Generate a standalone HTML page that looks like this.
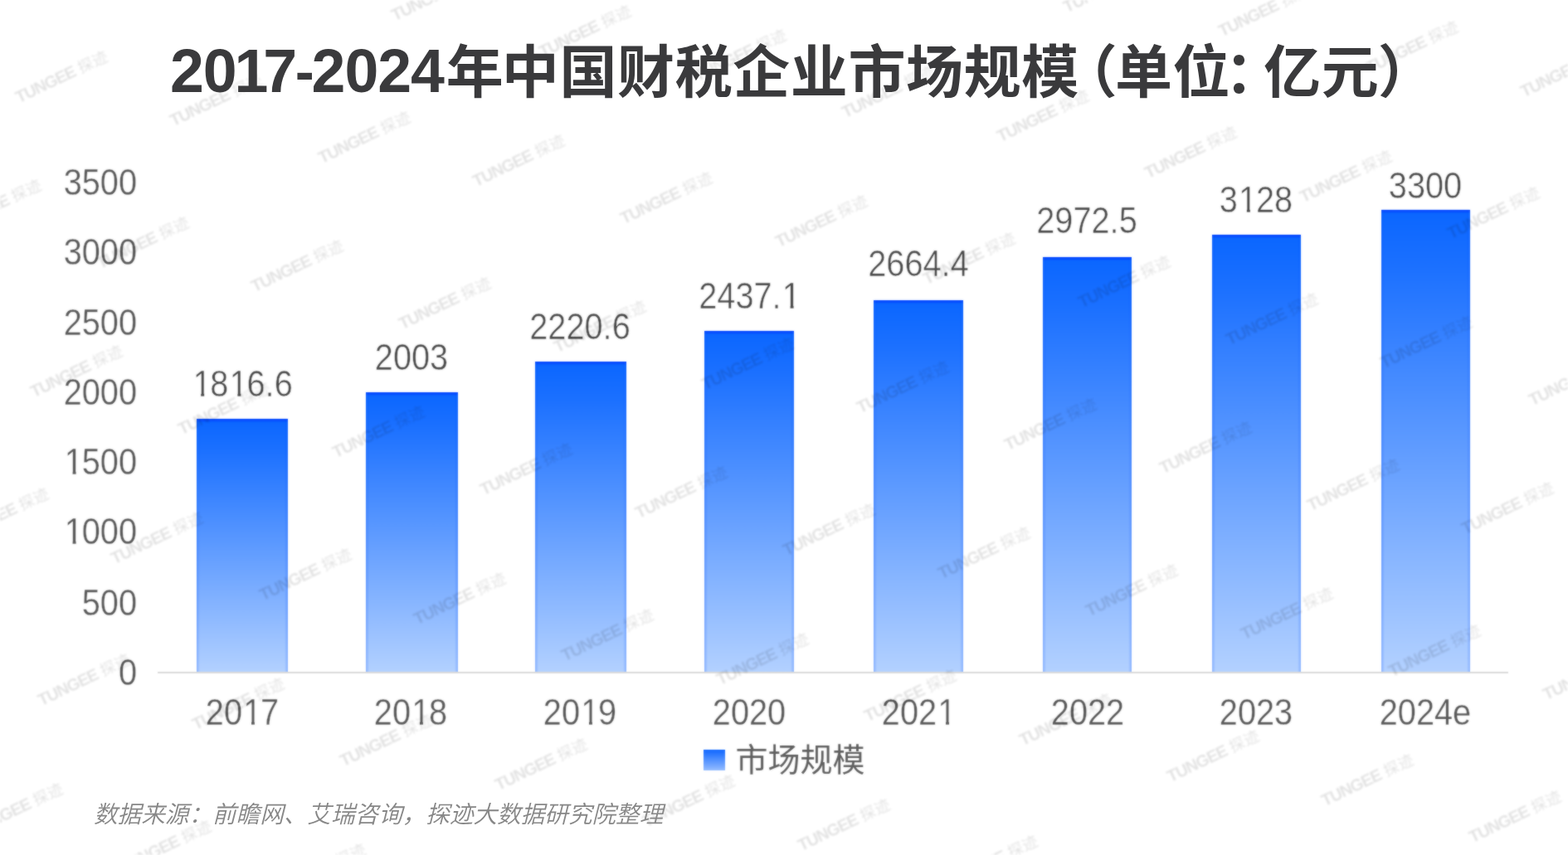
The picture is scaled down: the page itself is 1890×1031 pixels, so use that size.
<!DOCTYPE html>
<html lang="zh-CN">
<head>
<meta charset="utf-8">
<title>2017-2024年中国财税企业市场规模（单位：亿元）</title>
<style>
html,body{margin:0;padding:0;background:#fff;}
body{width:1890px;height:1031px;overflow:hidden;position:relative;font-family:"Liberation Sans","Noto Sans CJK SC",sans-serif;}
#stage{position:absolute;left:0;top:0;width:1890px;height:1031px;overflow:hidden;background:#fff;}
.title{position:absolute;left:205px;top:38.7px;height:96px;white-space:nowrap;
  font-family:"Liberation Sans","Noto Sans CJK SC",sans-serif;font-weight:700;font-size:69px;line-height:96px;color:#3a3a3c;letter-spacing:0.6px;}
.title .n{font-size:73.5px;letter-spacing:-1.1px;position:relative;top:-0.3px;}
.title .h{font-size:69px;margin:0 -3px 0 -8.5px;letter-spacing:0;position:relative;top:-1.8px;}
.title .d1{position:relative;left:-2px;}
.title .d7{position:relative;left:-7px;}
.title .c0{margin-left:3px;}
.title .c1{margin-left:-2.5px;}
.title .p1{margin-left:-23.2px;letter-spacing:-2.7px;}
.title .p2{margin-left:-7px;letter-spacing:-22px;}
.title .p3{margin-left:-1.5px;}
.chart{position:absolute;left:0;top:0;width:1890px;height:1031px;filter:url(#soft);}
.ylab{position:absolute;right:1724.6px;width:200px;text-align:right;font-size:44.6px;line-height:44px;height:44px;color:#585858;white-space:nowrap;transform:scaleX(0.8905);transform-origin:100% 50%;}
.xlab{position:absolute;width:204px;text-align:center;font-size:44.6px;line-height:44px;height:44px;color:#585858;white-space:nowrap;top:837.1px;transform:scaleX(0.8905);transform-origin:50% 50%;}
.vlab{position:absolute;width:204px;text-align:center;font-size:44.6px;line-height:44px;height:44px;color:#484848;white-space:nowrap;transform:scaleX(0.8905);transform-origin:50% 50%;}
.vlab{-webkit-text-stroke:0.6px #fff;}
.ylab,.xlab{-webkit-text-stroke:0.35px #fff;}
.o{display:inline-block;position:relative;left:0.03em;clip-path:polygon(0 0,100% 0,100% 0.738em,0.345em 0.738em,0.345em 100%,0.247em 100%,0.247em 0.738em,0 0.738em);}
.bar{position:absolute;background:linear-gradient(to bottom,#0a66ff 0%,#1b70ff 12%,#b3d1ff 100%);box-shadow:inset 3px 0 1.5px -0.5px rgba(0,85,255,0.18),inset -3px 0 1.5px -0.5px rgba(0,85,255,0.18),inset 0 4px 2px -1px rgba(0,50,255,0.55);}
.axis{position:absolute;left:190px;top:810.3px;width:1628px;height:1.8px;background:#dadada;}
.legend{position:absolute;left:848px;top:896px;height:44px;white-space:nowrap;}
.legend .sw{position:absolute;left:-0.5px;top:7.8px;width:26px;height:25.2px;background:linear-gradient(to bottom,#0f66ff,#94bcff);}
.legend .lt{position:absolute;left:38.5px;top:-1px;font-family:"Liberation Sans","Noto Sans CJK SC",sans-serif;font-size:39px;line-height:44px;color:#5e5e5e;}
.source{position:absolute;left:113px;top:962px;font-family:"Liberation Sans","Noto Sans CJK SC",sans-serif;font-style:italic;font-weight:350;font-size:28.6px;line-height:40px;color:#878787;white-space:nowrap;}
.wmlayer{position:absolute;left:0;top:0;width:1890px;height:1031px;overflow:hidden;pointer-events:none;filter:blur(1px);}
.wm{position:absolute;height:24px;margin:-24px 0 0 0;text-align:left;white-space:nowrap;
  font-family:"Liberation Sans","Noto Sans CJK SC",sans-serif;font-weight:700;font-size:20px;line-height:24px;letter-spacing:-1px;color:rgba(0,0,0,0.115);
  transform:rotate(-25.5deg);transform-origin:0 100%;}
.wm i{font-style:normal;font-weight:400;font-size:18.5px;margin-left:5.5px;letter-spacing:0.5px;}
</style>
</head>
<body>
<div id="stage">
<svg width="0" height="0" style="position:absolute" aria-hidden="true" focusable="false"><defs>
<filter id="soft" x="0" y="0" width="100%" height="100%" color-interpolation-filters="sRGB"><feGaussianBlur stdDeviation="0.8" result="b"/><feComposite in="SourceGraphic" in2="b" operator="arithmetic" k1="0" k2="0.45" k3="0.55" k4="0"/></filter>
</defs></svg>

<div class="chart">
<div class="ylab" style="top:788.60px">0</div>
<div class="ylab" style="top:704.77px">500</div>
<div class="ylab" style="top:619.14px"><span class="o">1</span>000</div>
<div class="ylab" style="top:534.71px"><span class="o">1</span>500</div>
<div class="ylab" style="top:450.79px">2000</div>
<div class="ylab" style="top:366.66px">2500</div>
<div class="ylab" style="top:281.93px">3000</div>
<div class="ylab" style="top:197.80px">3500</div>
<div class="bar" style="left:237.0px;top:505.0px;width:110.4px;height:306.0px"></div>
<div class="vlab" style="left:190.0px;top:440.70px"><span class="o">1</span>8<span class="o">1</span>6.6</div>
<div class="xlab" style="left:189.6px">20<span class="o">1</span>7</div>
<div class="bar" style="left:441.0px;top:472.8px;width:110.8px;height:338.2px"></div>
<div class="vlab" style="left:393.6px;top:408.70px">2003</div>
<div class="xlab" style="left:393.4px">20<span class="o">1</span>8</div>
<div class="bar" style="left:644.9px;top:435.8px;width:110.6px;height:375.2px"></div>
<div class="vlab" style="left:597.3px;top:371.70px">2220.6</div>
<div class="xlab" style="left:597.2px">20<span class="o">1</span>9</div>
<div class="bar" style="left:848.9px;top:398.9px;width:107.7px;height:412.1px"></div>
<div class="vlab" style="left:801.0px;top:335.20px">2437.<span class="o">1</span></div>
<div class="xlab" style="left:801.0px">2020</div>
<div class="bar" style="left:1052.8px;top:362.3px;width:108.0px;height:448.7px"></div>
<div class="vlab" style="left:1004.6px;top:295.50px">2664.4</div>
<div class="xlab" style="left:1004.8px">202<span class="o">1</span></div>
<div class="bar" style="left:1256.8px;top:310.2px;width:107.6px;height:500.8px"></div>
<div class="vlab" style="left:1208.2px;top:243.50px">2972.5</div>
<div class="xlab" style="left:1208.6px">2022</div>
<div class="bar" style="left:1460.8px;top:283.3px;width:107.5px;height:527.7px"></div>
<div class="vlab" style="left:1411.9px;top:219.10px">3<span class="o">1</span>28</div>
<div class="xlab" style="left:1412.4px">2023</div>
<div class="bar" style="left:1664.7px;top:253.3px;width:107.7px;height:557.7px"></div>
<div class="vlab" style="left:1615.5px;top:201.80px">3300</div>
<div class="xlab" style="left:1616.2px">2024e</div>
<div class="axis"></div>
<div class="legend"><span class="sw"></span><span class="lt">市场规模</span></div>
</div>
<div class="wmlayer">
<span class="wm" style="left:-126.5px;top:811.7px">TUNGEE<i>探迹</i></span>
<span class="wm" style="left:-28.6px;top:1011.9px">TUNGEE<i>探迹</i></span>
<span class="wm" style="left:-55.4px;top:284.1px">TUNGEE<i>探迹</i></span>
<span class="wm" style="left:42.5px;top:484.3px">TUNGEE<i>探迹</i></span>
<span class="wm" style="left:-46.3px;top:656.1px">TUNGEE<i>探迹</i></span>
<span class="wm" style="left:140.4px;top:684.5px">TUNGEE<i>探迹</i></span>
<span class="wm" style="left:51.6px;top:856.3px">TUNGEE<i>探迹</i></span>
<span class="wm" style="left:238.3px;top:884.7px">TUNGEE<i>探迹</i></span>
<span class="wm" style="left:149.5px;top:1056.5px">TUNGEE<i>探迹</i></span>
<span class="wm" style="left:336.2px;top:1084.9px">TUNGEE<i>探迹</i></span>
<span class="wm" style="left:24.8px;top:128.5px">TUNGEE<i>探迹</i></span>
<span class="wm" style="left:211.4px;top:156.9px">TUNGEE<i>探迹</i></span>
<span class="wm" style="left:122.7px;top:328.7px">TUNGEE<i>探迹</i></span>
<span class="wm" style="left:309.3px;top:357.1px">TUNGEE<i>探迹</i></span>
<span class="wm" style="left:220.6px;top:528.9px">TUNGEE<i>探迹</i></span>
<span class="wm" style="left:407.2px;top:557.3px">TUNGEE<i>探迹</i></span>
<span class="wm" style="left:318.5px;top:729.1px">TUNGEE<i>探迹</i></span>
<span class="wm" style="left:505.1px;top:757.5px">TUNGEE<i>探迹</i></span>
<span class="wm" style="left:416.4px;top:929.3px">TUNGEE<i>探迹</i></span>
<span class="wm" style="left:603.0px;top:957.7px">TUNGEE<i>探迹</i></span>
<span class="wm" style="left:291.6px;top:1.3px">TUNGEE<i>探迹</i></span>
<span class="wm" style="left:478.2px;top:29.7px">TUNGEE<i>探迹</i></span>
<span class="wm" style="left:389.5px;top:201.5px">TUNGEE<i>探迹</i></span>
<span class="wm" style="left:576.1px;top:229.9px">TUNGEE<i>探迹</i></span>
<span class="wm" style="left:487.4px;top:401.7px">TUNGEE<i>探迹</i></span>
<span class="wm" style="left:674.1px;top:430.1px">TUNGEE<i>探迹</i></span>
<span class="wm" style="left:585.3px;top:601.9px">TUNGEE<i>探迹</i></span>
<span class="wm" style="left:772.0px;top:630.3px">TUNGEE<i>探迹</i></span>
<span class="wm" style="left:683.2px;top:802.1px">TUNGEE<i>探迹</i></span>
<span class="wm" style="left:869.9px;top:830.5px">TUNGEE<i>探迹</i></span>
<span class="wm" style="left:781.1px;top:1002.3px">TUNGEE<i>探迹</i></span>
<span class="wm" style="left:967.8px;top:1030.7px">TUNGEE<i>探迹</i></span>
<span class="wm" style="left:656.4px;top:74.3px">TUNGEE<i>探迹</i></span>
<span class="wm" style="left:843.0px;top:102.7px">TUNGEE<i>探迹</i></span>
<span class="wm" style="left:754.2px;top:274.5px">TUNGEE<i>探迹</i></span>
<span class="wm" style="left:940.9px;top:302.9px">TUNGEE<i>探迹</i></span>
<span class="wm" style="left:852.2px;top:474.7px">TUNGEE<i>探迹</i></span>
<span class="wm" style="left:1038.8px;top:503.1px">TUNGEE<i>探迹</i></span>
<span class="wm" style="left:950.1px;top:674.9px">TUNGEE<i>探迹</i></span>
<span class="wm" style="left:1136.7px;top:703.3px">TUNGEE<i>探迹</i></span>
<span class="wm" style="left:1048.0px;top:875.1px">TUNGEE<i>探迹</i></span>
<span class="wm" style="left:1234.6px;top:903.5px">TUNGEE<i>探迹</i></span>
<span class="wm" style="left:1145.8px;top:1075.3px">TUNGEE<i>探迹</i></span>
<span class="wm" style="left:1332.5px;top:1103.7px">TUNGEE<i>探迹</i></span>
<span class="wm" style="left:1021.1px;top:147.3px">TUNGEE<i>探迹</i></span>
<span class="wm" style="left:1207.8px;top:175.7px">TUNGEE<i>探迹</i></span>
<span class="wm" style="left:1119.0px;top:347.5px">TUNGEE<i>探迹</i></span>
<span class="wm" style="left:1305.7px;top:375.9px">TUNGEE<i>探迹</i></span>
<span class="wm" style="left:1216.9px;top:547.7px">TUNGEE<i>探迹</i></span>
<span class="wm" style="left:1403.6px;top:576.1px">TUNGEE<i>探迹</i></span>
<span class="wm" style="left:1314.8px;top:747.9px">TUNGEE<i>探迹</i></span>
<span class="wm" style="left:1501.5px;top:776.3px">TUNGEE<i>探迹</i></span>
<span class="wm" style="left:1412.7px;top:948.1px">TUNGEE<i>探迹</i></span>
<span class="wm" style="left:1599.4px;top:976.5px">TUNGEE<i>探迹</i></span>
<span class="wm" style="left:1287.9px;top:20.1px">TUNGEE<i>探迹</i></span>
<span class="wm" style="left:1474.6px;top:48.5px">TUNGEE<i>探迹</i></span>
<span class="wm" style="left:1385.8px;top:220.3px">TUNGEE<i>探迹</i></span>
<span class="wm" style="left:1572.5px;top:248.7px">TUNGEE<i>探迹</i></span>
<span class="wm" style="left:1483.8px;top:420.5px">TUNGEE<i>探迹</i></span>
<span class="wm" style="left:1670.4px;top:448.9px">TUNGEE<i>探迹</i></span>
<span class="wm" style="left:1581.6px;top:620.7px">TUNGEE<i>探迹</i></span>
<span class="wm" style="left:1768.3px;top:649.1px">TUNGEE<i>探迹</i></span>
<span class="wm" style="left:1679.5px;top:820.9px">TUNGEE<i>探迹</i></span>
<span class="wm" style="left:1866.2px;top:849.3px">TUNGEE<i>探迹</i></span>
<span class="wm" style="left:1777.4px;top:1021.1px">TUNGEE<i>探迹</i></span>
<span class="wm" style="left:1652.7px;top:93.1px">TUNGEE<i>探迹</i></span>
<span class="wm" style="left:1839.3px;top:121.5px">TUNGEE<i>探迹</i></span>
<span class="wm" style="left:1750.6px;top:293.3px">TUNGEE<i>探迹</i></span>
<span class="wm" style="left:1848.5px;top:493.5px">TUNGEE<i>探迹</i></span>
</div>
<div class="title"><span class="n">20<span class="d1">1</span><span class="d7">7</span></span><span class="h">-</span><span class="n">2024</span><span class="c c0">年</span><span class="c c1">中国财税企业市场规模</span><span class="p1">（</span><span class="c">单位</span><span class="p2">：</span><span class="c">亿元</span><span class="p3">）</span></div>
<div class="source">数据来源：前瞻网、艾瑞咨询，探迹大数据研究院整理</div>
</div>
</body>
</html>
